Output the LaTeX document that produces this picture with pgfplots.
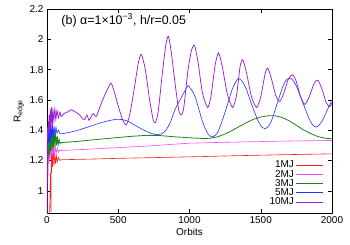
\documentclass[border=0pt]{standalone}
\usepackage{pgfplots}
\pgfplotsset{compat=1.18}
\usepackage{fontspec}
\setmainfont{Liberation Sans}
\definecolor{c1}{RGB}{255,30,30}
\definecolor{c2}{RGB}{255,70,255}
\definecolor{c3}{RGB}{30,130,30}
\definecolor{c4}{RGB}{30,50,255}
\definecolor{c5}{RGB}{155,30,215}
\begin{document}
\begin{tikzpicture}
\begin{axis}[
  scale only axis, width=285bp, height=204.5bp,
  xmin=0, xmax=2000, ymin=0.85, ymax=2.2,
  xtick={0,500,1000,1500,2000},
  ytick={1,1.2,1.4,1.6,1.8,2,2.2},
  yticklabels={1,1.2,1.4,1.6,1.8,2,2.2},
  xticklabels={0,500,1000,1500,2000},
  tick align=inside, major tick length=4bp,
  tick style={black, line width=0.5pt},
  axis line style={line width=0.8pt},
  ticklabel style={font=\fontsize{10}{11}\selectfont},
  xlabel={Orbits}, ylabel={R\textsubscript{edge}},
  label style={font=\fontsize{10}{11}\selectfont},
  xlabel style={yshift=3bp},
  ylabel style={yshift=-1bp},
  legend style={draw=none, fill=none, at={(rel axis cs:0.975,0.02)}, anchor=south east,
    font=\fontsize{10}{10}\selectfont, row sep=-3.2pt, inner sep=1pt},
  legend cell align=right, legend plot pos=right,
  legend image code/.code={\draw[#1, line width=0.8pt] (0cm,0cm) -- (0.95cm,0cm);},
  every axis plot/.append style={line width=0.6pt},
]
\addplot[c1] coordinates {(18,0.85)(22,1.00)(25,1.12)(28,0.86)(30,1.25)(33,1.12)(36,1.30)(40,1.16)(44,1.27)(50,1.17)(55,1.25)(60,1.18)(66,1.23)(72,1.19)(80,1.22)(90,1.20)(100,1.205)(200,1.207)(300,1.209)(500,1.214)(700,1.218)(900,1.222)(1100,1.226)(1300,1.231)(1500,1.235)(1700,1.239)(1900,1.242)(2000,1.244)};
\addlegendentry{1MJ}
\addplot[c2] coordinates {(6,1.05)(9,1.24)(12,1.18)(15,1.29)(19,1.20)(23,1.31)(28,1.22)(33,1.30)(40,1.23)(46,1.30)(52,1.24)(58,1.29)(65,1.25)(72,1.28)(80,1.255)(90,1.27)(100,1.266)(200,1.27)(300,1.275)(500,1.285)(700,1.295)(900,1.308)(1000,1.314)(1200,1.319)(1400,1.323)(1600,1.327)(1800,1.330)(2000,1.332)};
\addlegendentry{2MJ}
\addplot[c3, line width=0.8pt] coordinates {(4,1.12)(7,1.30)(10,1.22)(13,1.36)(17,1.24)(21,1.38)(25,1.26)(30,1.40)(35,1.27)(40,1.41)(45,1.28)(50,1.40)(55,1.29)(60,1.38)(66,1.30)(72,1.36)(78,1.30)(85,1.34)(92,1.31)(100,1.318)(200,1.325)(300,1.334)(400,1.343)(500,1.352)(600,1.360)(700,1.366)(800,1.364)(900,1.356)(1000,1.350)(1100,1.345)(1150,1.347)(1200,1.357)(1250,1.375)(1300,1.398)(1350,1.425)(1400,1.450)(1450,1.472)(1500,1.487)(1550,1.495)(1600,1.495)(1650,1.484)(1700,1.462)(1750,1.432)(1800,1.402)(1850,1.378)(1900,1.358)(1950,1.347)(2000,1.343)};
\addlegendentry{3MJ}
\addplot[c4, smooth] coordinates {(3,1.22)(6,1.38)(9,1.30)(12,1.40)(15,1.32)(19,1.42)(23,1.33)(27,1.43)(32,1.35)(38,1.44)(44,1.36)(50,1.42)(56,1.37)(63,1.42)(70,1.38)(80,1.40)(90,1.38)(100,1.376)(200,1.395)(300,1.425)(400,1.455)(493,1.472)(560,1.462)(650,1.415)(720,1.383)(775,1.370)(820,1.385)(860,1.44)(900,1.54)(940,1.61)(986,1.69)(1000,1.685)(1040,1.62)(1090,1.46)(1130,1.375)(1162,1.356)(1200,1.39)(1250,1.52)(1300,1.67)(1345,1.74)(1390,1.69)(1440,1.56)(1490,1.445)(1528,1.41)(1570,1.45)(1620,1.59)(1665,1.71)(1704,1.745)(1745,1.70)(1800,1.57)(1850,1.455)(1887,1.42)(1930,1.46)(1970,1.54)(2000,1.60)};
\addlegendentry{5MJ}
\addplot[c5, line width=0.75pt, smooth, tension=0.4] coordinates {(1,0.85)(3,1.40)(6,1.36)(9,1.46)(12,1.38)(15,1.50)(19,1.40)(23,1.54)(27,1.42)(32,1.55)(37,1.44)(42,1.53)(48,1.46)(55,1.54)(62,1.47)(70,1.53)(80,1.48)(90,1.52)(100,1.49)(120,1.51)(145,1.52)(170,1.535)(200,1.52)(230,1.50)(250,1.475)(265,1.47)(280,1.50)(295,1.465)(310,1.49)(325,1.51)(345,1.49)(370,1.55)(400,1.62)(430,1.68)(450,1.71)(470,1.66)(500,1.56)(530,1.47)(556,1.435)(580,1.50)(610,1.66)(640,1.84)(662,1.90)(690,1.80)(720,1.60)(745,1.47)(760,1.45)(780,1.52)(810,1.78)(835,1.97)(852,2.02)(870,1.93)(900,1.70)(925,1.53)(943,1.50)(960,1.55)(990,1.80)(1015,1.93)(1035,1.96)(1060,1.85)(1090,1.65)(1127,1.55)(1150,1.62)(1180,1.83)(1204,1.91)(1230,1.82)(1265,1.64)(1302,1.55)(1330,1.63)(1355,1.82)(1373,1.865)(1400,1.78)(1435,1.62)(1471,1.55)(1500,1.62)(1530,1.77)(1549,1.81)(1575,1.74)(1605,1.63)(1633,1.59)(1660,1.64)(1695,1.74)(1725,1.765)(1750,1.72)(1780,1.62)(1809,1.57)(1840,1.62)(1875,1.71)(1901,1.73)(1930,1.67)(1960,1.58)(1985,1.555)(2000,1.58)};
\addlegendentry{10MJ}
\node[anchor=base west, font=\fontsize{12.5}{13}\selectfont, inner sep=0pt] at (rel axis cs:0.05,0.925) {(b) α=1×10\textsuperscript{−3}, h/r=0.05};
\end{axis}
\path ([shift={(-47bp,-31bp)}]current axis.south west) rectangle ([shift={(18bp,9bp)}]current axis.north east);
\end{tikzpicture}
\end{document}
